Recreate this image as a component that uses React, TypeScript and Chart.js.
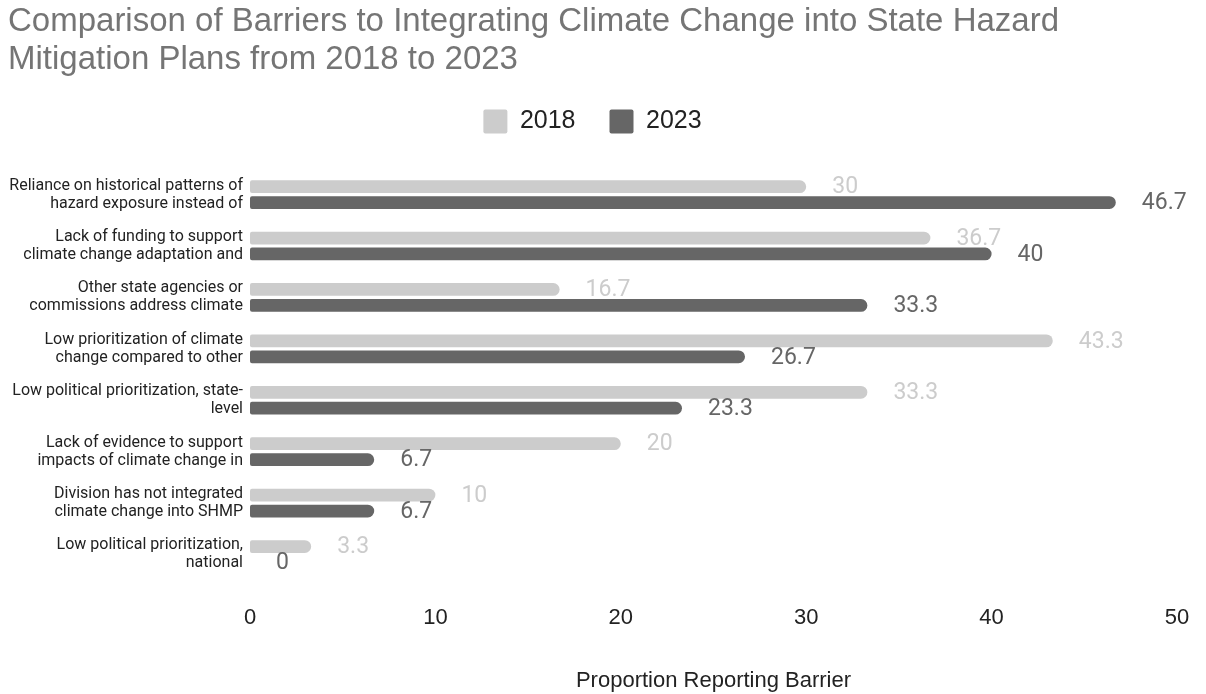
import React, { useEffect, useRef } from "react";
import { Chart, registerables } from "chart.js";

Chart.register(...registerables);

const titleLines = [
  "Comparison of Barriers to Integrating Climate Change into State Hazard",
  "Mitigation Plans from 2018 to 2023",
];

const categories: string[][] = [
  ["Reliance on historical patterns of", "hazard exposure instead of"],
  ["Lack of funding to support", "climate change adaptation and"],
  ["Other state agencies or", "commissions address climate"],
  ["Low prioritization of climate", "change compared to other"],
  ["Low political prioritization, state-", "level"],
  ["Lack of evidence to support", "impacts of climate change in"],
  ["Division has not integrated", "climate change into SHMP"],
  ["Low political prioritization,", "national"],
];

const values2018 = [30, 36.7, 16.7, 43.3, 33.3, 20, 10, 3.3];
const values2023 = [46.7, 40, 33.3, 26.7, 23.3, 6.7, 6.7, 0];

const seriesNames = ["2018", "2023"];
const seriesColors = ["#cccccc", "#666666"];
const labelColors = ["#cccccc", "#666666"];

const xTicks = [0, 10, 20, 30, 40, 50];
const xAxisTitle = "Proportion Reporting Barrier";

const dataLabelPlugin = {
  id: "dataLabels",
  afterDatasetsDraw(chart: any) {
    const ctx = chart.ctx;
    ctx.save();
    ctx.font = "23px Roboto";
    ctx.textAlign = "left";
    ctx.textBaseline = "middle";
    chart.data.datasets.forEach((ds: any, di: number) => {
      const meta = chart.getDatasetMeta(di);
      meta.data.forEach((el: any, i: number) => {
        ctx.fillStyle = labelColors[di];
        ctx.fillText(String(ds.data[i]), el.x + 26, el.y + 1);
      });
    });
    ctx.restore();
  },
};

const legendSpacePlugin = {
  id: "legendSpace",
  beforeInit(chart: any) {
    const legend = chart.legend;
    if (!legend) return;
    const origFit = legend.fit;
    legend.fit = function () {
      origFit.call(this);
      this.height += 25;
    };
  },
};

export default function App() {
  const ref = useRef<HTMLCanvasElement | null>(null);
  useEffect(() => {
    if (!ref.current) return;
    const chart = new Chart(ref.current, {
      type: "bar",
      data: {
        labels: categories,
        datasets: [values2018, values2023].map((vals, i) => ({
          label: seriesNames[i],
          data: vals,
          backgroundColor: seriesColors[i],
          borderRadius: { topLeft: 2, bottomLeft: 2, topRight: 7, bottomRight: 7 },
          borderSkipped: false,
          categoryPercentage: 0.62,
          barPercentage: 0.8,
        })),
      },
      options: {
        indexAxis: "y",
        animation: false,
        responsive: true,
        maintainAspectRatio: false,
        layout: { padding: { left: 8, right: 29, top: 3, bottom: 0 } },
        plugins: {
          title: {
            display: true,
            text: titleLines,
            align: "start",
            color: "#757575",
            font: { family: "Liberation Sans", size: 33, weight: "normal", lineHeight: 1.15 },
            padding: { top: 0, bottom: -4 },
          },
          legend: {
            display: true,
            position: "top",
            align: "center",
            labels: {
              color: "#222222",
              font: { family: "Liberation Sans", size: 25 },
              boxWidth: 24,
              boxHeight: 24,
              padding: 34,
              useBorderRadius: true,
              borderRadius: 2,
            },
          },
          tooltip: { enabled: false },
        },
        scales: {
          x: {
            min: 0,
            max: 50,
            afterBuildTicks: (axis: any) => {
              axis.ticks = xTicks.map((v) => ({ value: v }));
            },
            afterFit: (scale: any) => {
              scale.paddingRight = 12;
              scale.paddingLeft = 0;
            },
            grid: { display: false, drawTicks: false },
            border: { display: false },
            ticks: {
              color: "#222222",
              font: { family: "Liberation Sans", size: 22 },
              padding: 25,
            },
            title: {
              display: true,
              text: xAxisTitle,
              color: "#222222",
              font: { family: "Liberation Sans", size: 22 },
              padding: { top: 11, bottom: 0 },
            },
          },
          y: {
            afterFit: (scale: any) => {
              scale.width = 242;
            },
            grid: { display: false, drawTicks: false },
            border: { display: false },
            ticks: {
              color: "#222222",
              font: { family: "Roboto", size: 16, lineHeight: 1.125 },
              padding: 7,
              autoSkip: false,
            },
          },
        },
      },
      plugins: [dataLabelPlugin, legendSpacePlugin],
    });
    return () => chart.destroy();
  }, []);
  return (
    <div style={{ position: "fixed", left: 0, top: 0, width: 1206, height: 694, background: "#fff" }}>
      <canvas ref={ref} />
    </div>
  );
}
